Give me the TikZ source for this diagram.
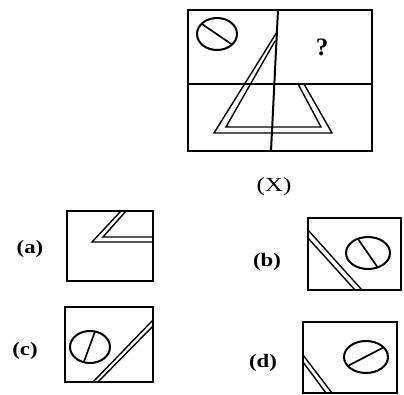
\documentclass[tikz,border=0pt]{standalone}
\usepackage{fontspec}
\setmainfont{Liberation Serif}
\begin{document}
\begin{tikzpicture}[x=1pt,y=-1pt,
  frame/.style={line width=2pt, line join=miter},
  band/.style={line width=1.4pt, line join=miter},
  bar/.style={line width=1.7pt},
  lbl/.style={font=\fontsize{19}{19}\selectfont\bfseries, inner sep=0pt},
  xlbl/.style={font=\fontsize{20}{20}\selectfont, inner sep=0pt}]
\useasboundingbox (0,0) rectangle (404,395);
% ---- main figure (X)
\draw[frame] (188,10) rectangle (372,151);
\draw[frame] (188,84) -- (372,84);
\draw[frame] (278,10) -- (271,151);
\draw[band] (304,84) -- (332,133) -- (214,133) -- (277,32);
\draw[band] (298,84) -- (321,127) -- (226,127) -- (275,41);
\begin{scope}
  \clip (217,34) ellipse [x radius=20pt, y radius=16pt];
  \draw[bar] (199,22) -- (243,52);
\end{scope}
\draw[frame] (217,34) ellipse [x radius=20pt, y radius=16pt];
\node (q) at (322,47) {\fontsize{25}{25}\selectfont\bfseries ?};
\node[xlbl] (lx) at (274,187) {\scalebox{1.25}[1]{(X)}};
% ---- option (a)
\node[lbl] (la) at (30,249) {\scalebox{1.2}[1]{(a)}};
\draw[frame] (67,211) rectangle (153,281);
\draw[band] (121,211) -- (92,242) -- (153,242);
\draw[band] (126,211) -- (103,237) -- (153,237);
% ---- option (b)
\node[lbl] (lb) at (267,262) {\scalebox{1.2}[1]{(b)}};
\draw[frame] (308,218) rectangle (401,290);
\draw[band] (308,230) -- (362,290);
\draw[band] (308,238) -- (355,290);
\begin{scope}
  \clip (368,253) ellipse [x radius=22pt, y radius=16pt];
  \draw[bar] (349,226) -- (385,278);
\end{scope}
\draw[frame] (368,253) ellipse [x radius=22pt, y radius=16pt];
% ---- option (c)
\node[lbl] (lc) at (25,351) {\scalebox{1.2}[1]{(c)}};
\draw[frame] (65,307) rectangle (153,382);
\draw[band] (93,382) -- (153,320);
\draw[band] (98,382) -- (153,326);
\begin{scope}
  \clip (90,347) ellipse [x radius=20pt, y radius=16pt];
  \draw[bar] (97,326) -- (82,367);
\end{scope}
\draw[frame] (90,347) ellipse [x radius=20pt, y radius=16pt];
% ---- option (d)
\node[lbl] (ld) at (263,363) {\scalebox{1.2}[1]{(d)}};
\draw[frame] (303,322) rectangle (397,393);
\draw[band] (303,355) -- (332,393);
\draw[band] (303,362) -- (326,393);
\begin{scope}
  \clip (366,357) ellipse [x radius=22pt, y radius=16pt];
  \draw[bar] (340,370) -- (392,343);
\end{scope}
\draw[frame] (366,357) ellipse [x radius=22pt, y radius=16pt];
\end{tikzpicture}
\end{document}
